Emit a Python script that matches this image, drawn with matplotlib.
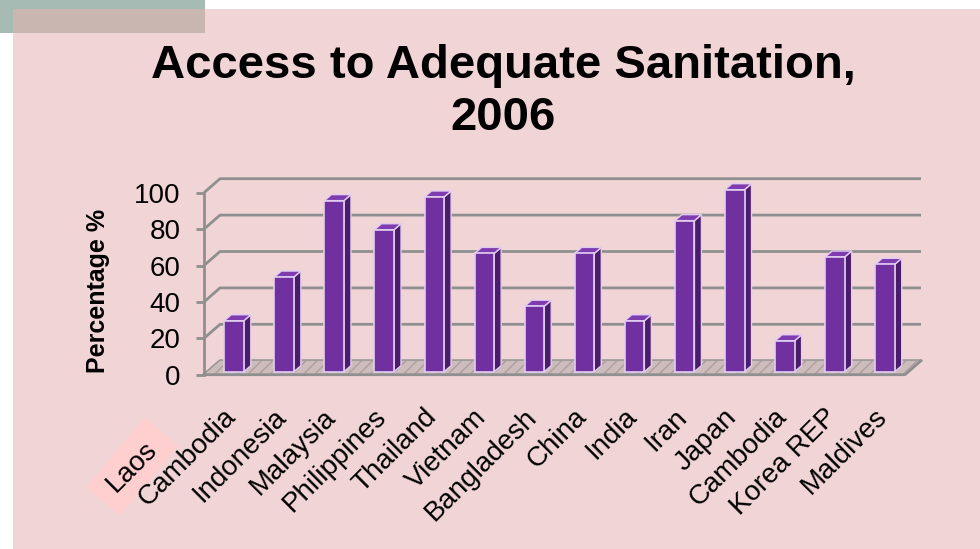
import matplotlib
matplotlib.use("Agg")
import matplotlib.pyplot as plt
from matplotlib.patches import Rectangle, Polygon
from matplotlib.transforms import ScaledTranslation
import numpy as np

# ---- data ----
countries = ["Cambodia", "Indonesia", "Malaysia", "Philippines", "Thailand",
             "Vietnam", "Bangladesh", "China", "India", "Iran", "Japan",
             "Cambodia", "Korea REP", "Maldives"]
values = [28, 52, 94, 78, 96, 65, 36, 65, 28, 83, 100, 17, 63, 59]
yticks = [0, 20, 40, 60, 80, 100]
title_line1 = "Access to Adequate Sanitation,"
title_line2 = "2006"
ylabel = "Percentage %"
extra_label = "Laos"

plt.rcParams['font.family'] = ['Liberation Sans', 'DejaVu Sans']
plt.rcParams['hatch.linewidth'] = 1.0

W, H = 980, 549
fig = plt.figure(figsize=(W / 100, H / 100), dpi=100)
fig.patch.set_facecolor("white")

# ---- slide background ----
bg = fig.add_axes([0, 0, 1, 1], zorder=-10)
bg.set_xlim(0, W)
bg.set_ylim(H, 0)
bg.axis("off")
bg.add_patch(Rectangle((0, 0), 205, 33, facecolor="#A6BBB3", edgecolor="none"))
bg.add_patch(Rectangle((13, 9), W - 13, H - 9, facecolor="#F1D5D6", edgecolor="none"))
bg.add_patch(Rectangle((13, 9), 205 - 13, 33 - 9, facecolor="#C9B6B0", edgecolor="none"))
# pink diamond behind the extra label
bg.add_patch(Rectangle((132 - 45.5, 466.5 - 22), 91, 44, angle=-50, rotation_point="center",
                       facecolor="#FFCFCF", edgecolor="none"))

# ---- main axes (front plane) ----
left_px, right_px, y0_px, y100_px = 204, 905, 374.7, 192.7
ax = fig.add_axes([left_px / W, 1 - y0_px / H, (right_px - left_px) / W, (y0_px - y100_px) / H])
ax.set_facecolor("none")
n = len(countries)
x = np.arange(n)
ax.set_xlim(-0.5, n - 0.5)
ax.set_ylim(0, 100)
for s in ax.spines.values():
    s.set_visible(False)

pxx = (right_px - left_px) / n          # pixels per category unit
pxy = (y0_px - y100_px) / 100           # pixels per value unit
wall_dx, wall_dy = 16 / pxx, 14 / pxy   # depth of the back wall
xl, xr = ax.get_xlim()

grid_col = "#8F8F8F"
# back-wall grid lines
for t in yticks:
    ax.plot([xl, xl + wall_dx, xr + wall_dx], [t, t + wall_dy, t + wall_dy],
            color=grid_col, lw=2.0, clip_on=False, zorder=1, solid_capstyle="butt")
# floor
floor = Polygon([[xl, 0], [xr, 0], [xr + wall_dx, wall_dy], [xl + wall_dx, wall_dy]],
                closed=True, facecolor="#CDBCBC", edgecolor="#AE9E9E", hatch="///",
                lw=0, clip_on=False, zorder=2)
ax.add_patch(floor)
ax.plot([xl, xr, xr + wall_dx], [0, 0, wall_dy], color=grid_col, lw=2.0,
        clip_on=False, zorder=3)
# y axis line
ax.plot([xl, xl], [0, 100], color=grid_col, lw=2.0, clip_on=False, zorder=3)

# bars with 3D faces
bar_w = 0.39
off_x, off_y = 5 / pxx, 3 / pxy         # bar placed slightly into the depth
dep_x, dep_y = 7 / pxx, 6 / pxy         # bar depth
front_col, side_col, top_col, edge_col = "#7030A0", "#4A1C6C", "#7E3CB0", "#E2CDEF"
for xi, v in zip(x, values):
    x0 = xi - bar_w / 2 + off_x
    x1 = xi + bar_w / 2 + off_x
    yb = off_y
    yt = v + off_y
    side = Polygon([[x1, yb], [x1 + dep_x, yb + dep_y], [x1 + dep_x, yt + dep_y], [x1, yt]],
                   closed=True, facecolor=side_col, edgecolor=edge_col, lw=1.0,
                   clip_on=False, zorder=5)
    top = Polygon([[x0, yt], [x1, yt], [x1 + dep_x, yt + dep_y], [x0 + dep_x, yt + dep_y]],
                  closed=True, facecolor=top_col, edgecolor=edge_col, lw=1.0,
                  clip_on=False, zorder=5)
    front = Rectangle((x0, yb), bar_w, v, facecolor=front_col, edgecolor=edge_col,
                      lw=1.2, clip_on=False, zorder=6)
    ax.add_patch(side)
    ax.add_patch(top)
    ax.add_patch(front)

# ticks
ax.set_yticks(yticks)
ax.set_yticklabels([str(t) for t in yticks], fontsize=20)
ax.tick_params(axis="y", length=6, width=2, color=grid_col, pad=11)
ax.set_xticks(x)
ax.set_xticklabels(countries, fontsize=20, rotation=45, ha="right", va="top",
                   rotation_mode="anchor")
ax.tick_params(axis="x", length=0, pad=21)
shift = ScaledTranslation(-6 / 100, 0, fig.dpi_scale_trans)
for lab in ax.get_xticklabels():
    lab.set_transform(lab.get_transform() + shift)

# extra category label
fig.text(132 / W, 1 - 467 / H, extra_label, fontsize=20, rotation=45,
         ha="center", va="center", rotation_mode="anchor")

# title & y label
fig.text(503 / W, 1 - 78 / H, title_line1, fontsize=34, fontweight="bold",
         ha="center", va="baseline")
fig.text(503 / W, 1 - 130 / H, title_line2, fontsize=34, fontweight="bold",
         ha="center", va="baseline")
fig.text(98 / W, 1 - 291 / H, ylabel, fontsize=18, fontweight="bold",
         rotation=90, ha="center", va="center")

fig.savefig("out.png", dpi=100, facecolor=fig.get_facecolor())
